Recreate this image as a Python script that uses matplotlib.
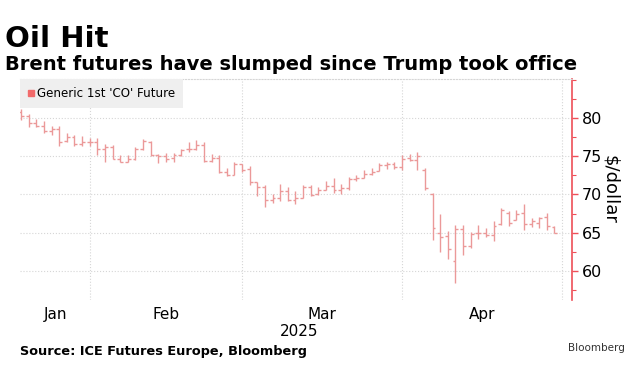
#! /usr/bin/env python3
import matplotlib
matplotlib.use('Agg')
import matplotlib.pyplot as plt
from matplotlib.lines import Line2D
from matplotlib.ticker import MultipleLocator

# trading days shown on the chart (Good Friday has no bar)
dates = ['2025-01-20', '2025-01-21', '2025-01-22', '2025-01-23', '2025-01-24',
         '2025-01-27', '2025-01-28', '2025-01-29', '2025-01-30', '2025-01-31',
         '2025-02-03', '2025-02-04', '2025-02-05', '2025-02-06', '2025-02-07',
         '2025-02-10', '2025-02-11', '2025-02-12', '2025-02-13', '2025-02-14',
         '2025-02-17', '2025-02-18', '2025-02-19', '2025-02-20', '2025-02-21',
         '2025-02-24', '2025-02-25', '2025-02-26', '2025-02-27', '2025-02-28',
         '2025-03-03', '2025-03-04', '2025-03-05', '2025-03-06', '2025-03-07',
         '2025-03-10', '2025-03-11', '2025-03-12', '2025-03-13', '2025-03-14',
         '2025-03-17', '2025-03-18', '2025-03-19', '2025-03-20', '2025-03-21',
         '2025-03-24', '2025-03-25', '2025-03-26', '2025-03-27', '2025-03-28',
         '2025-03-31',
         '2025-04-01', '2025-04-02', '2025-04-03', '2025-04-04',
         '2025-04-07', '2025-04-08', '2025-04-09', '2025-04-10', '2025-04-11',
         '2025-04-14', '2025-04-15', '2025-04-16', '2025-04-17',
         '2025-04-21', '2025-04-22', '2025-04-23', '2025-04-24', '2025-04-25',
         '2025-04-28', '2025-04-29']

opens = [80.8, 80.2, 79.3, 79.0, 78.3, 78.5, 77.0, 77.5, 76.6, 76.9,
         76.8, 75.9, 76.2, 74.6, 74.3, 74.7, 75.9, 76.9, 75.2, 75.0,
         74.8, 75.2, 75.9, 76.0, 76.5, 74.4, 74.8, 73.0, 72.6, 74.0,
         73.3, 71.6, 71.0, 69.3, 69.5, 70.4, 69.3, 69.6, 71.0, 70.0,
         70.6, 71.1, 70.6, 70.8, 72.0, 72.2, 72.7, 73.1, 73.8, 74.0,
         73.6,
         74.8, 74.5, 73.2, 70.1, 65.0, 64.6, 61.3, 65.5, 63.3,
         65.0, 64.9, 64.7, 66.2, 67.6, 66.6, 67.6, 66.1, 66.3,
         67.0, 65.8]
highs = [81.2, 80.5, 79.9, 79.6, 79.0, 79.0, 78.0, 77.8, 77.6, 77.4,
         77.4, 76.6, 76.5, 75.2, 75.2, 76.2, 77.3, 77.0, 75.3, 75.4,
         75.4, 76.0, 76.9, 77.1, 76.8, 75.3, 75.1, 73.4, 74.2, 74.0,
         73.7, 71.6, 71.3, 70.0, 71.4, 71.0, 70.5, 71.2, 71.3, 71.0,
         71.7, 72.2, 71.4, 72.3, 72.6, 73.2, 73.5, 74.1, 74.2, 74.3,
         75.2,
         75.3, 75.6, 73.5, 70.2, 67.4, 65.2, 66.0, 66.0, 65.1,
         66.0, 65.6, 66.5, 68.2, 67.8, 68.0, 68.7, 66.9, 67.0,
         67.6, 65.9]
lows = [79.7, 78.8, 78.8, 78.0, 77.8, 76.4, 76.9, 76.4, 76.3, 76.4,
        75.1, 74.3, 74.6, 74.2, 74.2, 74.5, 75.8, 75.0, 74.1, 74.2,
        74.2, 75.0, 75.6, 75.8, 74.3, 74.2, 72.8, 72.4, 72.6, 72.9,
        71.3, 69.8, 68.4, 68.9, 69.2, 69.2, 68.7, 69.6, 69.8, 69.9,
        70.6, 70.2, 70.0, 70.6, 71.7, 72.1, 72.6, 73.1, 73.3, 73.3,
        73.2,
        74.4, 73.2, 70.6, 64.1, 62.5, 61.5, 58.4, 62.1, 63.0,
        64.2, 64.4, 63.9, 66.0, 65.9, 66.6, 65.4, 65.8, 65.6,
        65.4, 64.9]
closes = [80.2, 79.3, 79.0, 78.3, 78.5, 76.9, 77.5, 76.6, 76.9, 76.8,
          75.9, 76.2, 74.6, 74.3, 74.7, 75.9, 77.0, 75.2, 75.0, 74.7,
          75.2, 75.8, 76.0, 76.5, 74.4, 74.8, 73.0, 72.5, 74.0, 73.2,
          71.6, 71.0, 69.3, 69.5, 70.4, 69.3, 69.6, 71.0, 69.9, 70.6,
          71.1, 70.6, 70.8, 72.0, 72.2, 72.7, 73.0, 73.8, 74.0, 73.6,
          74.7,
          74.5, 75.0, 70.8, 65.6, 64.4, 62.9, 65.5, 63.3, 64.8,
          64.9, 64.7, 65.9, 68.0, 66.3, 67.4, 66.1, 66.5, 66.9,
          65.9, 65.0]

month_ends = ['2025-01-31', '2025-02-28', '2025-03-31', '2025-04-30']
month_labels = ['Jan', 'Feb', 'Mar', 'Apr']
yticks = [60, 65, 70, 75, 80]

bar_color = '#eb9999'
axis_red = '#ee4f58'

fig = plt.figure(figsize=(6.4, 3.7), dpi=100)
ax = fig.add_axes([20 / 640, 1 - 300 / 370, 552 / 640, 221 / 370])

x = list(range(len(dates)))
ax.vlines(x, lows, highs, color=bar_color, lw=1.0)
ax.hlines(opens, [i - 0.38 for i in x], x, color=bar_color, lw=1.0)
ax.hlines(closes, x, [i + 0.38 for i in x], color=bar_color, lw=1.0)

# month grid lines sit on the last trading day of each month
grid_pos = [sum(1 for d in dates if d < m) for m in month_ends]
for g in grid_pos:
    ax.axvline(g, color='#d6d6d6', lw=0.8, ls=':', zorder=0)
for v in yticks:
    ax.axhline(v, color='#d6d6d6', lw=0.8, ls=':', zorder=0)

ax.set_xlim(-0.15, 72.3)
ax.set_ylim(56.2, 85.1)

label_pos = []
prev = 0
for g in grid_pos:
    label_pos.append((prev + g) / 2.0)
    prev = g
ax.set_xticks(label_pos)
ax.set_xticklabels(month_labels, fontsize=11)
ax.tick_params(axis='x', length=0, pad=5)

ax.yaxis.tick_right()
ax.yaxis.set_label_position('right')
ax.set_yticks(yticks)
ax.yaxis.set_minor_locator(MultipleLocator(2.5))
ax.tick_params(axis='y', which='major', colors=axis_red, labelcolor='black',
               labelsize=11.5, length=4, width=1, pad=3)
ax.tick_params(axis='y', which='minor', colors=axis_red, length=3, width=0.8)
ax.set_ylabel('\\$/dollar', fontsize=13, rotation=270, labelpad=12)

for s in ['left', 'bottom']:
    ax.spines[s].set_visible(False)
ax.spines['right'].set_color(axis_red)
ax.spines['right'].set_linewidth(1.2)
ax.spines['top'].set_color('#d6d6d6')
ax.spines['top'].set_linestyle(':')
ax.spines['top'].set_linewidth(0.8)

handle = Line2D([], [], marker='s', ls='none', color='#f26b6b', markersize=5)
leg = ax.legend([handle], ["Generic 1st 'CO' Future"], loc='upper left',
                bbox_to_anchor=(0, 1), borderaxespad=0, fontsize=8.6,
                frameon=True, fancybox=False, handlelength=0.6,
                handletextpad=0.2, borderpad=0.65)
leg.get_frame().set_facecolor('#efefef')
leg.get_frame().set_edgecolor('none')
leg.get_frame().set_alpha(1)

fig.text(5 / 640, 1 - 39 / 370, 'Oil Hit', fontsize=21, fontweight='bold',
         va='center', ha='left')
fig.text(5 / 640, 1 - 64 / 370, 'Brent futures have slumped since Trump took office',
         fontsize=14, fontweight='bold', va='center', ha='left')
fig.text(299 / 640, 1 - 331 / 370, '2025', fontsize=11, va='center', ha='center')
fig.text(20 / 640, 1 - 352 / 370, 'Source: ICE Futures Europe, Bloomberg',
         fontsize=9.3, fontweight='bold', va='center', ha='left')
fig.text(625 / 640, 1 - 348 / 370, 'Bloomberg', fontsize=7.5, va='center',
         ha='right', color='#333333')

fig.savefig('out.png', dpi=100)
